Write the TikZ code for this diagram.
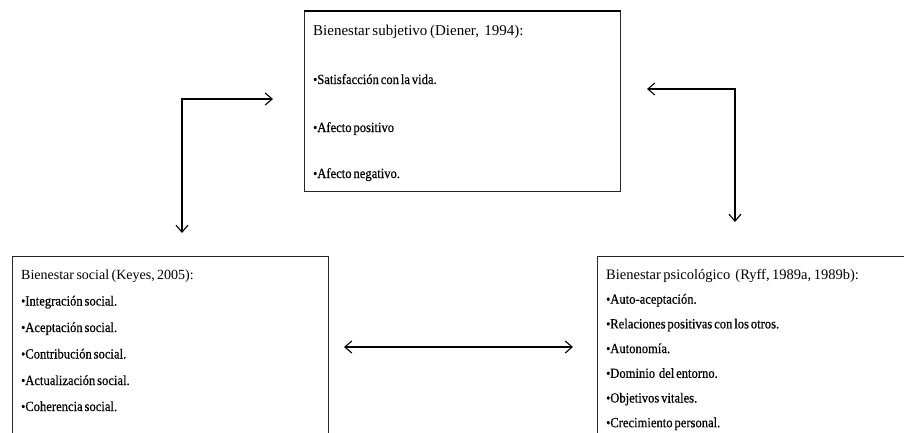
\documentclass[tikz,border=0pt]{standalone}
\usepackage{fontspec}
\setmainfont{Liberation Serif}[WordSpace=0.7]
\newfontfamily\condfont{Liberation Serif}[FakeStretch=0.9, FakeBold=0.5, WordSpace=0.6]
\usetikzlibrary{arrows.meta}

% list bullet
\newcommand{\bul}{\raisebox{0.2pt}{\fontsize{13}{13}\selectfont •}}

\begin{document}
\begin{tikzpicture}[x=1pt,y=-1pt,
  panel/.style={draw=black!85, line width=1pt, inner sep=0pt, anchor=north west},
  txt/.style={anchor=base west, inner sep=0pt, font=\condfont\fontsize{14}{15}\selectfont},
  head/.style={anchor=base west, inner sep=0pt, font=\fontsize{14}{15}\selectfont},
  barb/.tip={Straight Barb[length=7pt,width=12pt]},
  link/.style={line width=1.1pt, barb-barb}]

\useasboundingbox (0,0) rectangle (904,432);
\clip (0,0) rectangle (904,432);

% panels
\node[panel, minimum width=316pt, minimum height=180pt] (sub) at (304,11) {};
\draw[line width=2.6pt] (sub.north west) -- (sub.north east);
\node[panel, minimum width=316pt, minimum height=190pt] (soc) at (12,256) {};
\node[panel, minimum width=320pt, minimum height=190pt] (psi) at (597,256) {};

% subjective well-being
\node[head, font=\fontsize{15}{16}\selectfont] (sub0) at (313,35) {Bienestar subjetivo (Diener,\ \ 1994):};
\node[txt]  (sub1) at (313,84)  {\bul Satisfacción con la vida.};
\node[txt]  (sub2) at (313,132) {\bul Afecto positivo};
\node[txt]  (sub3) at (313,178) {\bul Afecto negativo.};

% social well-being
\node[head] (soc0) at (21,279)   {Bienestar social (Keyes, 2005):};
\node[txt]  (soc1) at (21,305.5) {\bul Integración social.};
\node[txt]  (soc2) at (21,332)   {\bul Aceptación social.};
\node[txt]  (soc3) at (21,358.5) {\bul Contribución social.};
\node[txt]  (soc4) at (21,385)   {\bul Actualización social.};
\node[txt]  (soc5) at (21,411)   {\bul Coherencia social.};

% psychological well-being
\node[head, font=\fontsize{14.5}{16}\selectfont] (psi0) at (606,279) {Bienestar psicológico\ \ (Ryff, 1989a, 1989b):};
\node[txt]  (psi1) at (606,303.7) {\bul Auto-aceptación.};
\node[txt]  (psi2) at (606,328.4) {\bul Relaciones positivas con los otros.};
\node[txt]  (psi3) at (606,353.1) {\bul Autonomía.};
\node[txt]  (psi4) at (606,377.8) {\bul Dominio\ \ del entorno.};
\node[txt]  (psi5) at (606,402.5) {\bul Objetivos vitales.};
\node[txt]  (psi6) at (606,427.2) {\bul Crecimiento personal.};

% connector ends
\coordinate (l1) at (182,233);
\coordinate (l2) at (273,99);
\coordinate (r1) at (647,89);
\coordinate (r2) at (735,222);
\coordinate (b1) at (344,347);
\coordinate (b2) at (573,347);

\draw[link] (l1) |- (l2);
\draw[link] (r1) -| (r2);
\draw[link] (b1) -- (b2);
\end{tikzpicture}
\end{document}
